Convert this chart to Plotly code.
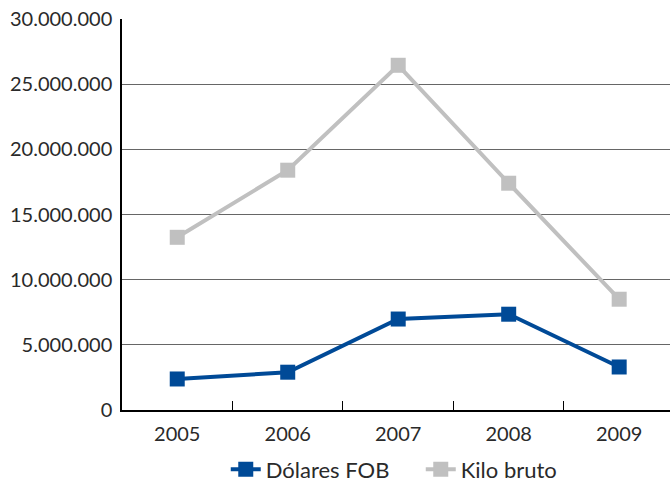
import plotly.graph_objects as go

years = ["2005", "2006", "2007", "2008", "2009"]
dolares_fob = [2380000, 2900000, 6980000, 7350000, 3300000]
kilo_bruto = [13250000, 18400000, 26450000, 17400000, 8500000]
y_ticks = [0, 5000000, 10000000, 15000000, 20000000, 25000000, 30000000]
y_tick_text = ["0", "5.000.000", "10.000.000", "15.000.000", "20.000.000", "25.000.000", "30.000.000"]

font_family = "Lato, 'Open Sans', sans-serif"

fig = go.Figure()
fig.add_trace(go.Scatter(
    x=years, y=dolares_fob, name="Dólares FOB", mode="lines+markers",
    line=dict(color="#004a97", width=4),
    marker=dict(symbol="square", size=15, color="#004a97"),
))
fig.add_trace(go.Scatter(
    x=years, y=kilo_bruto, name="Kilo bruto", mode="lines+markers",
    line=dict(color="#c0c0c0", width=4),
    marker=dict(symbol="square", size=15, color="#c0c0c0"),
))

fig.update_layout(
    width=670, height=483,
    margin=dict(l=122, r=0, t=19, b=73, autoexpand=False),
    paper_bgcolor="white", plot_bgcolor="white",
    font=dict(family=font_family, size=20, color="#2a2a2a"),
    showlegend=True,
    legend=dict(orientation="h", x=0.628, xanchor="center",
                xref="container", yref="container", y=0.028, yanchor="middle",
                entrywidth=150, entrywidthmode="pixels",
                font=dict(size=22), traceorder="normal"),
    xaxis=dict(
        type="category", range=[-0.5, 4.46], automargin=False,
        showline=True, linecolor="black", linewidth=1.5,
        showgrid=False, ticks="inside", ticklen=9, tickcolor="black",
        tickson="boundaries", tickfont=dict(size=20), ticklabelstandoff=5,
    ),
    yaxis=dict(
        range=[0, 30000000], tickvals=y_ticks, ticktext=y_tick_text,
        automargin=False,
        showline=True, linecolor="black", linewidth=1.5,
        showgrid=True, gridcolor="#666666", gridwidth=1,
        zeroline=False, ticks="", ticklabelstandoff=4,
        tickfont=dict(size=20),
    ),
)

fig.write_html("out.html")
